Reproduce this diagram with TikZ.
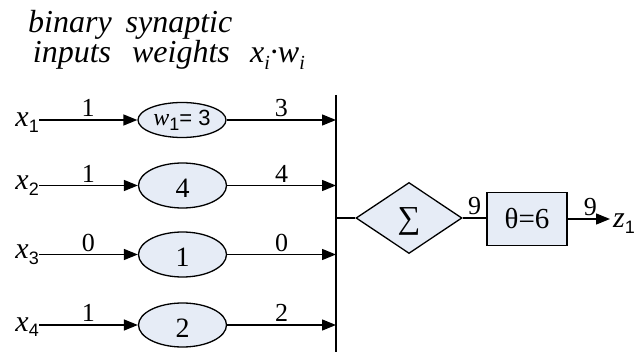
\documentclass[tikz,border=0pt]{standalone}
\usepackage{fontspec}
\setmainfont{Liberation Serif}
\newfontfamily\sansnum{Liberation Sans}
\usetikzlibrary{shapes.geometric,arrows.meta}
\definecolor{cellfill}{HTML}{E6ECF6}
% sans-serif lowered index, as in x_1
\newcommand\lowidx[1]{\raisebox{-0.18em}{\sansnum\fontsize{18}{18}\selectfont #1}}
% italic lowered index, as in x_i
\newcommand\itidx[1]{\raisebox{-0.2em}{\fontsize{20}{20}\selectfont\itshape #1}}
% weight value, set a little below the middle of its ellipse
\newcommand\wval[1]{\raisebox{-3pt}[\height][0pt]{#1}}
\begin{document}
\begin{tikzpicture}[x=1pt,y=-1pt,
  wire/.style={line width=1.4pt},
  arr/.style={wire,-{Triangle[length=14pt,width=11pt]}},
  weight/.style={ellipse,draw,line width=1.3pt,fill=cellfill,minimum width=88pt,inner sep=0pt,
                 font=\fontsize{28}{30}\selectfont},
  num/.style={font=\fontsize{26}{28}\selectfont,inner sep=2.5pt},
  head/.style={font=\fontsize{32}{34}\selectfont\itshape,anchor=base,inner sep=0pt},
  inlabel/.style={anchor=base east,inner sep=0pt,font=\fontsize{30}{32}\selectfont},
  block/.style={draw,fill=cellfill,line width=1.3pt,inner sep=0pt},
  ]
\useasboundingbox (0,0) rectangle (639,352);

% column headings
\node[head] (hb) at (70,33) {binary};
\node[head] (hs) at (179,33) {synaptic};
\node[head] (hi) at (72,63) {inputs};
\node[head] (hw) at (181,63) {weights};
\node[head,anchor=base west] (hp) at (250,63) {x\itidx{i}·w\itidx{i}};

% inputs
\node[inlabel] (x1) at (39,127) {\textit{x}\lowidx{1}};
\node[inlabel] (x2) at (39,190) {\textit{x}\lowidx{2}};
\node[inlabel] (x3) at (39,259) {\textit{x}\lowidx{3}};
\node[inlabel] (x4) at (39,331) {\textit{x}\lowidx{4}};

% synaptic weights
\node[weight,minimum height=35pt] (w1) at (182,120)
  {{\fontsize{24}{24}\selectfont\itshape w}\lowidx{1}{\sansnum\fontsize{22}{24}\selectfont= 3}};
\node[weight,minimum height=45pt] (w2) at (182.5,185.5) {\wval{4}};
\node[weight,minimum height=45pt] (w3) at (182.5,254.5) {\wval{1}};
\node[weight,minimum height=44pt] (w4) at (182.5,325) {\wval{2}};

% input connectors
\draw[arr] (x1.east |- w1.west) -- node[num,above]{1} (w1.west);
\draw[arr] (x2.east |- w2.west) -- node[num,above]{1} (w2.west);
\draw[arr] (x3.east |- w3.west) -- node[num,above]{0} (w3.west);
\draw[arr] (x4.east |- w4.west) -- node[num,above]{1} (w4.west);

% collecting bus
\coordinate (bartop) at (336,95);
\coordinate (barbot) at (336,352);
\draw[line width=2pt] (bartop) -- (barbot);

% weighted products
\draw[arr] (w1.east) -- node[num,above]{3} (w1.east -| bartop);
\draw[arr] (w2.east) -- node[num,above]{4} (w2.east -| bartop);
\draw[arr] (w3.east) -- node[num,above]{0} (w3.east -| bartop);
\draw[arr] (w4.east) -- node[num,above]{2} (w4.east -| bartop);

% summation and threshold
\node[block,diamond,minimum width=106pt,minimum height=71pt,aspect=1.5] (sum) at (409,218) {};
\node[inner sep=0pt,font=\fontsize{32}{34}\selectfont] (sig) at (409,221) {∑};
\node[block,minimum width=80pt,minimum height=53pt,font=\fontsize{29}{30}\selectfont] (thr) at (527,219) {θ=6};
\node[anchor=base west,inner sep=0pt,font=\fontsize{30}{30}\selectfont] (z1) at (613,228) {\textit{z}\lowidx{1}};

\draw[wire] (sum.west -| bartop) -- (sum.west);
\draw[wire] (sum.east) -- node[num,above]{9} (thr.west |- sum.east);
\draw[arr,shorten >=3pt] (thr.east) -- node[num,above]{9} (thr.east -| z1.west);
\end{tikzpicture}
\end{document}
